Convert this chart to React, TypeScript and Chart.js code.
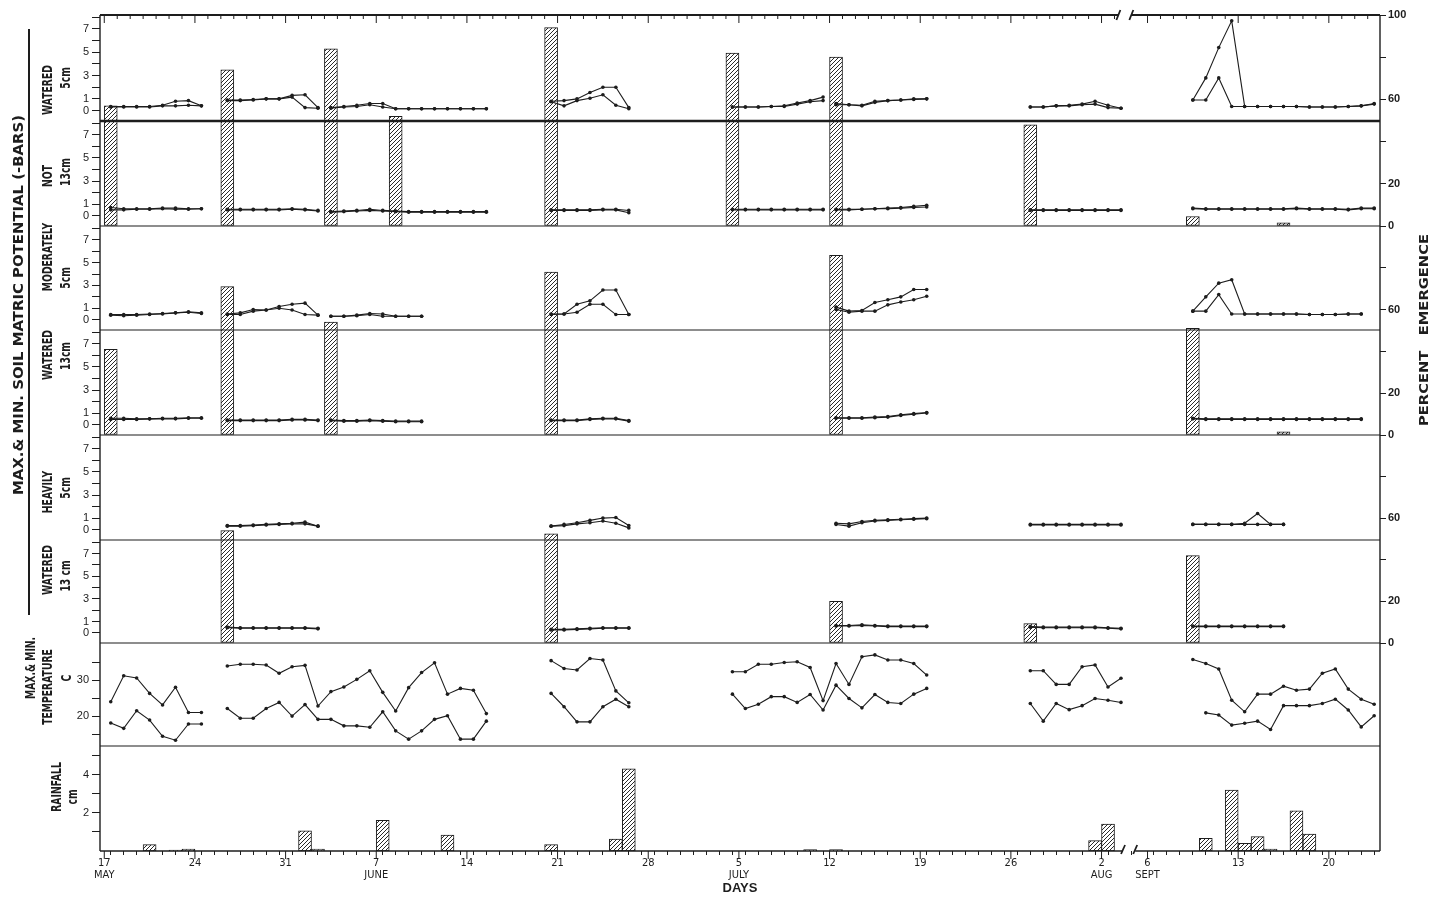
import React, { useEffect, useRef } from "react";
import { Chart, registerables } from "chart.js";

Chart.register(...registerables);

const INK = "#1d1d1d";
// Sept dates are drawn right after the axis break (Aug 3 | Sept 6)
const SEPT_SHIFT = 74.55;

function dayX(date: string): number {
  const [m, d] = date.split("/").map(Number);
  if (m === 5) return d - 17;
  if (m === 6) return d + 14;
  if (m === 7) return d + 44;
  if (m === 8) return d + 75;
  return d + SEPT_SHIFT;
}

// ---------------- axis labels ----------------
const tickDates = ["5/17", "5/24", "5/31", "6/7", "6/14", "6/21", "6/28", "7/5", "7/12", "7/19", "7/26", "8/2", "9/6", "9/13", "9/20"];
const tickDayLabels = ["17", "24", "31", "7", "14", "21", "28", "5", "12", "19", "26", "2", "6", "13", "20"];
const tickMonthLabels = ["MAY", "", "", "JUNE", "", "", "", "JULY", "", "", "", "AUG", "SEPT", "", ""];
const soilTicks = [0, 1, 2, 3, 4, 5, 6, 7, 8];
const soilTickLabels = [0, 1, 3, 5, 7];
const emergTicks = [0, 20, 40, 60, 80, 100];
const tempTicks = [15, 20, 25, 30, 35];
const tempTickLabels = [20, 30];
const rainTicks = [1, 2, 3, 4, 5];
const rainTickLabels = [2, 4];

// ---------------- soil matric potential (-bars), daily max / min per drying cycle ----------------
type Cycle = { start: string; max: number[]; min: number[] };

const notWatered5: Cycle[] = [
  { start: "5/17", max: [0.35, 0.35, 0.35, 0.35, 0.45, 0.8, 0.85, 0.4], min: [0.3, 0.3, 0.3, 0.3, 0.4, 0.4, 0.45, 0.4] },
  { start: "5/26", max: [0.9, 0.9, 0.95, 1.0, 1.0, 1.3, 1.35, 0.25], min: [0.85, 0.85, 0.9, 1.0, 1.0, 1.15, 0.25, 0.2] },
  { start: "6/3", max: [0.25, 0.35, 0.45, 0.6, 0.6, 0.15, 0.15, 0.15, 0.15, 0.15, 0.15, 0.15, 0.15], min: [0.2, 0.3, 0.35, 0.5, 0.3, 0.15, 0.15, 0.15, 0.15, 0.15, 0.15, 0.15, 0.15] },
  { start: "6/20", max: [0.8, 0.85, 1.0, 1.55, 2.0, 2.0, 0.25], min: [0.75, 0.4, 0.85, 1.05, 1.35, 0.45, 0.15] },
  { start: "7/4", max: [0.3, 0.3, 0.3, 0.35, 0.4, 0.65, 0.85, 1.15], min: [0.3, 0.3, 0.3, 0.35, 0.35, 0.55, 0.75, 0.85] },
  { start: "7/12", max: [0.6, 0.5, 0.45, 0.8, 0.85, 0.9, 1.0, 1.0], min: [0.5, 0.5, 0.4, 0.7, 0.85, 0.9, 0.95, 1.0] },
  { start: "7/27", max: [0.3, 0.3, 0.4, 0.45, 0.55, 0.8, 0.45, 0.2], min: [0.3, 0.3, 0.4, 0.4, 0.5, 0.55, 0.25, 0.2] },
  { start: "9/9", max: [0.9, 2.8, 5.4, 7.7, 0.35, 0.35, 0.35, 0.35, 0.35, 0.3, 0.3, 0.3, 0.35, 0.4, 0.6], min: [0.9, 0.9, 2.8, 0.35, 0.35, 0.35, 0.35, 0.35, 0.35, 0.3, 0.3, 0.3, 0.35, 0.4, 0.55] },
];

const notWatered13: Cycle[] = [
  { start: "5/17", max: [0.7, 0.6, 0.6, 0.6, 0.65, 0.65, 0.6, 0.6], min: [0.5, 0.5, 0.55, 0.55, 0.6, 0.55, 0.55, 0.6] },
  { start: "5/26", max: [0.55, 0.55, 0.55, 0.55, 0.55, 0.6, 0.55, 0.45], min: [0.5, 0.5, 0.5, 0.5, 0.5, 0.55, 0.5, 0.4] },
  { start: "6/3", max: [0.35, 0.4, 0.45, 0.55, 0.45, 0.4, 0.35, 0.35, 0.35, 0.35, 0.35, 0.35, 0.35], min: [0.3, 0.35, 0.4, 0.45, 0.4, 0.35, 0.3, 0.3, 0.3, 0.3, 0.3, 0.3, 0.3] },
  { start: "6/20", max: [0.5, 0.5, 0.5, 0.5, 0.55, 0.55, 0.45], min: [0.45, 0.45, 0.45, 0.45, 0.5, 0.5, 0.25] },
  { start: "7/4", max: [0.55, 0.55, 0.55, 0.55, 0.55, 0.55, 0.55, 0.55], min: [0.5, 0.5, 0.5, 0.5, 0.5, 0.5, 0.5, 0.5] },
  { start: "7/12", max: [0.55, 0.55, 0.55, 0.6, 0.65, 0.7, 0.8, 0.9], min: [0.5, 0.5, 0.55, 0.6, 0.6, 0.65, 0.7, 0.75] },
  { start: "7/27", max: [0.5, 0.5, 0.5, 0.5, 0.5, 0.5, 0.5, 0.5], min: [0.45, 0.45, 0.45, 0.45, 0.45, 0.45, 0.45, 0.45] },
  { start: "9/9", max: [0.65, 0.6, 0.6, 0.6, 0.6, 0.6, 0.6, 0.6, 0.65, 0.6, 0.6, 0.6, 0.55, 0.65, 0.65], min: [0.6, 0.55, 0.55, 0.55, 0.55, 0.55, 0.55, 0.55, 0.6, 0.55, 0.55, 0.55, 0.5, 0.6, 0.6] },
];

const modWatered5: Cycle[] = [
  { start: "5/17", max: [0.45, 0.45, 0.45, 0.5, 0.55, 0.6, 0.7, 0.6], min: [0.4, 0.35, 0.4, 0.45, 0.5, 0.6, 0.65, 0.55] },
  { start: "5/26", max: [0.5, 0.6, 0.9, 0.85, 1.15, 1.35, 1.45, 0.4], min: [0.45, 0.45, 0.75, 0.85, 1.0, 0.85, 0.45, 0.4] },
  { start: "6/3", max: [0.3, 0.3, 0.4, 0.55, 0.5, 0.3, 0.3, 0.3], min: [0.3, 0.3, 0.35, 0.45, 0.3, 0.3, 0.3, 0.3] },
  { start: "6/20", max: [0.5, 0.5, 1.35, 1.65, 2.6, 2.6, 0.45], min: [0.45, 0.5, 0.65, 1.35, 1.35, 0.45, 0.45] },
  { start: "7/12", max: [1.1, 0.75, 0.8, 1.5, 1.75, 2.0, 2.65, 2.65], min: [0.9, 0.65, 0.75, 0.75, 1.3, 1.55, 1.75, 2.05] },
  { start: "9/9", max: [0.75, 2.0, 3.2, 3.5, 0.5, 0.5, 0.5, 0.5, 0.5, 0.45, 0.45, 0.45, 0.5, 0.5], min: [0.75, 0.75, 2.2, 0.5, 0.5, 0.5, 0.5, 0.5, 0.5, 0.45, 0.45, 0.45, 0.5, 0.5] },
];

const modWatered13: Cycle[] = [
  { start: "5/17", max: [0.55, 0.55, 0.5, 0.5, 0.55, 0.55, 0.6, 0.6], min: [0.45, 0.45, 0.45, 0.5, 0.5, 0.5, 0.55, 0.55] },
  { start: "5/26", max: [0.4, 0.4, 0.4, 0.4, 0.4, 0.45, 0.45, 0.4], min: [0.35, 0.35, 0.35, 0.35, 0.35, 0.4, 0.4, 0.35] },
  { start: "6/3", max: [0.4, 0.35, 0.35, 0.4, 0.35, 0.3, 0.3, 0.3], min: [0.35, 0.3, 0.3, 0.35, 0.3, 0.25, 0.25, 0.25] },
  { start: "6/20", max: [0.4, 0.4, 0.4, 0.5, 0.55, 0.55, 0.35], min: [0.35, 0.35, 0.35, 0.45, 0.5, 0.5, 0.3] },
  { start: "7/12", max: [0.6, 0.6, 0.6, 0.65, 0.7, 0.85, 0.95, 1.05], min: [0.55, 0.55, 0.55, 0.6, 0.65, 0.8, 0.9, 1.0] },
  { start: "9/9", max: [0.55, 0.5, 0.5, 0.5, 0.5, 0.5, 0.5, 0.5, 0.5, 0.5, 0.5, 0.5, 0.5, 0.5], min: [0.5, 0.45, 0.45, 0.45, 0.45, 0.45, 0.45, 0.45, 0.45, 0.45, 0.45, 0.45, 0.45, 0.45] },
];

const heavyWatered5: Cycle[] = [
  { start: "5/26", max: [0.35, 0.35, 0.4, 0.45, 0.5, 0.55, 0.65, 0.3], min: [0.3, 0.3, 0.35, 0.4, 0.45, 0.5, 0.5, 0.3] },
  { start: "6/20", max: [0.3, 0.45, 0.6, 0.8, 1.0, 1.05, 0.35], min: [0.3, 0.35, 0.5, 0.6, 0.75, 0.55, 0.15] },
  { start: "7/12", max: [0.55, 0.5, 0.7, 0.8, 0.85, 0.9, 0.95, 1.0], min: [0.45, 0.3, 0.6, 0.75, 0.8, 0.85, 0.9, 0.95] },
  { start: "7/27", max: [0.45, 0.45, 0.45, 0.45, 0.45, 0.45, 0.45, 0.45], min: [0.4, 0.4, 0.4, 0.4, 0.4, 0.4, 0.4, 0.4] },
  { start: "9/9", max: [0.45, 0.45, 0.45, 0.45, 0.55, 1.4, 0.45, 0.45], min: [0.45, 0.45, 0.45, 0.45, 0.45, 0.45, 0.45, 0.45] },
];

const heavyWatered13: Cycle[] = [
  { start: "5/26", max: [0.5, 0.45, 0.45, 0.45, 0.45, 0.45, 0.45, 0.4], min: [0.45, 0.4, 0.4, 0.4, 0.4, 0.4, 0.4, 0.35] },
  { start: "6/20", max: [0.3, 0.3, 0.35, 0.4, 0.45, 0.45, 0.45], min: [0.25, 0.25, 0.3, 0.35, 0.4, 0.4, 0.4] },
  { start: "7/12", max: [0.65, 0.65, 0.7, 0.65, 0.6, 0.6, 0.6, 0.6], min: [0.6, 0.6, 0.65, 0.6, 0.55, 0.55, 0.55, 0.55] },
  { start: "7/27", max: [0.55, 0.5, 0.5, 0.5, 0.5, 0.5, 0.45, 0.4], min: [0.5, 0.45, 0.45, 0.45, 0.45, 0.45, 0.4, 0.35] },
  { start: "9/9", max: [0.6, 0.6, 0.6, 0.6, 0.6, 0.6, 0.6, 0.6], min: [0.55, 0.55, 0.55, 0.55, 0.55, 0.55, 0.55, 0.55] },
];

// ---------------- percent emergence (bars) ----------------
const nwEmergDates = ["5/17", "5/26", "6/3", "6/8", "6/20", "7/4", "7/12", "7/27", "9/9", "9/16"];
const nwEmergence = [57, 74, 84, 52, 94, 82, 80, 48, 4.5, 1.5];
const mwEmergDates = ["5/17", "5/26", "6/3", "6/20", "7/12", "9/9", "9/16"];
const mwEmergence = [41, 71, 54, 78, 86, 51, 1.5];
const hwEmergDates = ["5/26", "6/20", "7/12", "7/27", "9/9"];
const hwEmergence = [54, 52.5, 20, 9.3, 42];

// ---------------- air temperature (C) ----------------
const tempMaxStarts = ["5/17", "5/26", "6/20", "7/4", "7/27", "9/9"];
const tempMax = [
  [24.0, 31.2, 30.6, 26.3, 23.1, 28.0, 21.0, 21.0],
  [33.9, 34.4, 34.4, 34.2, 31.9, 33.7, 34.1, 22.8, 26.8, 28.1, 30.2, 32.6, 26.6, 21.4, 27.9, 32.1, 34.8, 26.1, 27.7, 27.2, 20.7],
  [35.4, 33.2, 32.8, 36.0, 35.6, 27.0, 23.7],
  [32.3, 32.3, 34.4, 34.4, 34.9, 35.1, 33.5, 24.3, 34.6, 28.8, 36.5, 37.0, 35.6, 35.6, 34.6, 31.4],
  [32.6, 32.6, 28.8, 28.8, 33.7, 34.2, 28.1, 30.5],
  [35.7, 34.6, 33.1, 24.4, 21.2, 26.1, 26.1, 28.3, 27.2, 27.5, 31.9, 33.1, 27.5, 24.7, 23.3],
];
const tempMinStarts = ["5/17", "5/26", "6/20", "7/4", "7/27", "9/10"];
const tempMin = [
  [18.1, 16.6, 21.5, 18.9, 14.4, 13.3, 17.8, 17.8],
  [22.1, 19.4, 19.4, 22.1, 23.8, 20.0, 23.2, 19.1, 19.1, 17.3, 17.3, 16.9, 21.2, 15.9, 13.6, 15.9, 19.1, 20.1, 13.6, 13.6, 18.6],
  [26.3, 22.6, 18.4, 18.4, 22.6, 24.7, 22.6],
  [26.1, 22.1, 23.3, 25.4, 25.4, 23.8, 26.0, 21.7, 28.6, 24.9, 22.3, 26.0, 23.8, 23.5, 26.1, 27.7],
  [23.5, 18.6, 23.5, 21.8, 22.9, 24.9, 24.4, 23.8],
  [20.9, 20.3, 17.5, 18.0, 18.6, 16.3, 22.9, 22.9, 22.9, 23.5, 24.7, 21.7, 17.0, 20.1],
];

// ---------------- rainfall (cm) ----------------
const rainDates = ["5/20", "5/22", "5/23", "6/1", "6/2", "6/7", "6/12", "6/20", "6/25", "6/26", "7/10", "7/12", "8/1", "8/2", "9/10", "9/12", "9/13", "9/14", "9/15", "9/17", "9/18"];
const rainCm = [0.33, 0.05, 0.1, 1.06, 0.1, 1.6, 0.84, 0.33, 0.63, 4.3, 0.07, 0.07, 0.54, 1.41, 0.66, 3.19, 0.4, 0.75, 0.1, 2.11, 0.89];

// ---------------- helpers ----------------
const xTickValues: number[] = [];
for (let v = 0; v <= 78; v++) xTickValues.push(v);
for (let d = 6; d <= 23; d++) xTickValues.push(d + SEPT_SHIFT);
const majorValues = tickDates.map(dayX);
const isMajor = (v: number) => majorValues.some((m) => Math.abs(m - v) < 0.01);

function lineSet(points: { x: number; y: number }[], axis: string) {
  return {
    type: "line",
    data: points,
    yAxisID: axis,
    xAxisID: "x",
    borderColor: INK,
    backgroundColor: INK,
    borderWidth: 1.1,
    pointRadius: 1.8,
    pointHoverRadius: 1.8,
    pointBackgroundColor: INK,
    pointBorderWidth: 0,
    tension: 0,
    fill: false,
  };
}

function cycleSets(cycles: Cycle[], axis: string) {
  const out: any[] = [];
  cycles.forEach((c) => {
    const x0 = dayX(c.start) + 0.5;
    out.push(lineSet(c.max.map((y, i) => ({ x: x0 + i, y })), axis));
    out.push(lineSet(c.min.map((y, i) => ({ x: x0 + i, y })), axis));
  });
  return out;
}

function segmentSets(starts: string[], segs: number[][], axis: string) {
  return segs.map((vals, k) => {
    const x0 = dayX(starts[k]) + 0.5;
    return lineSet(vals.map((y, i) => ({ x: x0 + i, y })), axis);
  });
}

function barSet(dates: string[], vals: number[], axis: string, pattern: any) {
  return {
    type: "bar",
    data: dates.map((d, i) => ({ x: dayX(d) + 0.5, y: vals[i] })),
    yAxisID: axis,
    xAxisID: "x",
    backgroundColor: pattern,
    borderColor: INK,
    borderWidth: 1,
    borderSkipped: false,
    barThickness: 13,
    grouped: false,
    order: 10,
  };
}

function makeHatch() {
  const c = document.createElement("canvas");
  c.width = 4;
  c.height = 4;
  const g = c.getContext("2d")!;
  g.fillStyle = "#ffffff";
  g.fillRect(0, 0, 4, 4);
  g.strokeStyle = "#2a2a2a";
  g.lineWidth = 1;
  g.beginPath();
  g.moveTo(0, 4);
  g.lineTo(4, 0);
  g.moveTo(-1, 1);
  g.lineTo(1, -1);
  g.moveTo(3, 5);
  g.lineTo(5, 3);
  g.stroke();
  const ctx = document.createElement("canvas").getContext("2d")!;
  return ctx.createPattern(c, "repeat");
}

function seg(ctx: CanvasRenderingContext2D, x1: number, y1: number, x2: number, y2: number) {
  ctx.beginPath();
  ctx.moveTo(x1, y1);
  ctx.lineTo(x2, y2);
  ctx.stroke();
}

function rotText(ctx: CanvasRenderingContext2D, text: string, cx: number, cy: number, font: string, sx: number, len?: number) {
  ctx.save();
  ctx.translate(cx, cy);
  ctx.rotate(-Math.PI / 2);
  ctx.font = font;
  ctx.textAlign = "center";
  ctx.textBaseline = "middle";
  let k = sx;
  if (len) k = len / ctx.measureText(text).width;
  ctx.scale(k, 1);
  ctx.fillText(text, 0, 0);
  ctx.restore();
}

const LABEL_FONT = "bold 14px 'DejaVu Sans', 'Liberation Sans', sans-serif";

const decorPlugin = {
  id: "decor",
  afterDraw(chart: any) {
    const ctx: CanvasRenderingContext2D = chart.ctx;
    const a = chart.chartArea;
    const xs = chart.scales.x;
    const px = (v: number) => xs.getPixelForValue(v);
    ctx.save();
    ctx.strokeStyle = INK;
    ctx.fillStyle = INK;
    // panel separators
    ["nw13", "mw5", "mw13", "hw5", "hw13", "temp", "rain"].forEach((id) => {
      const s = chart.scales[id];
      ctx.lineWidth = id === "nw13" ? 2.4 : 1.2;
      seg(ctx, a.left, s.top, a.right, s.top);
    });
    // left / right frame
    ctx.lineWidth = 1.4;
    seg(ctx, a.left, a.top, a.left, a.bottom);
    seg(ctx, a.right, a.top, a.right, a.bottom);
    // top line with break
    const t1 = px(78.3), t2 = px(79.3);
    ctx.lineWidth = 2;
    seg(ctx, a.left, a.top, t1, a.top);
    seg(ctx, t2, a.top, a.right, a.top);
    ctx.lineWidth = 1.8;
    seg(ctx, t1 - 2, a.top + 5, t1 + 2, a.top - 5);
    seg(ctx, t2 - 2, a.top + 5, t2 + 2, a.top - 5);
    // bottom axis line with break
    const b1 = px(78.66), b2 = px(79.6);
    ctx.lineWidth = 1.5;
    seg(ctx, a.left, a.bottom, b1, a.bottom);
    seg(ctx, b2, a.bottom, a.right, a.bottom);
    ctx.lineWidth = 1.8;
    seg(ctx, b1 - 2, a.bottom + 3, b1 + 2, a.bottom - 6);
    seg(ctx, b2 - 2, a.bottom + 3, b2 + 2, a.bottom - 6);
    // ticks on the top frame, longer major ticks on the bottom
    ctx.lineWidth = 1;
    xTickValues.forEach((v) => {
      const p = px(v);
      seg(ctx, p, a.top, p, a.top + (isMajor(v) ? 8 : 4));
      if (isMajor(v)) seg(ctx, p, a.bottom, p, a.bottom + 8);
    });
    // bracket line for soil potential title
    ctx.lineWidth = 2;
    seg(ctx, 29, 29, 29, 615);
    // rotated titles
    rotText(ctx, "MAX.& MIN. SOIL MATRIC POTENTIAL (-BARS)", 19, 305, "bold 14px 'DejaVu Sans', sans-serif", 1, 380);
    const S = 0.66;
    rotText(ctx, "WATERED", 48, 90, LABEL_FONT, S);
    rotText(ctx, "5cm", 66, 78, LABEL_FONT, S);
    rotText(ctx, "NOT", 48, 176, LABEL_FONT, S);
    rotText(ctx, "13cm", 66, 172, LABEL_FONT, S);
    rotText(ctx, "MODERATELY", 48, 257, LABEL_FONT, S);
    rotText(ctx, "5cm", 66, 278, LABEL_FONT, S);
    rotText(ctx, "WATERED", 48, 355, LABEL_FONT, S);
    rotText(ctx, "13cm", 66, 356, LABEL_FONT, S);
    rotText(ctx, "HEAVILY", 48, 492, LABEL_FONT, S);
    rotText(ctx, "5cm", 66, 488, LABEL_FONT, S);
    rotText(ctx, "WATERED", 48, 570, LABEL_FONT, S);
    rotText(ctx, "13 cm", 66, 576, LABEL_FONT, S);
    rotText(ctx, "MAX.& MIN.", 31, 668, LABEL_FONT, S);
    rotText(ctx, "TEMPERATURE", 48, 687, LABEL_FONT, S);
    rotText(ctx, "C", 67, 678, LABEL_FONT, S);
    rotText(ctx, "RAINFALL", 57, 787, LABEL_FONT, S);
    rotText(ctx, "cm", 73, 797, LABEL_FONT, S);
    rotText(ctx, "PERCENT   EMERGENCE", 1425, 330, "bold 13px 'DejaVu Sans', sans-serif", 1, 192);
    ctx.restore();
  },
};

function soilAxis(weight: number, stackWeight: number) {
  return {
    type: "linear",
    position: "left",
    stack: "soil",
    stackWeight,
    weight,
    min: -0.9,
    max: 8.2,
    afterBuildTicks: (s: any) => {
      s.ticks = soilTicks.map((v) => ({ value: v }));
    },
    afterFit: (s: any) => {
      s.width = 100;
    },
    ticks: {
      autoSkip: false,
      padding: 3,
      color: INK,
      font: { size: 11 },
      callback: (v: number) => (soilTickLabels.includes(v) ? String(v) : ""),
    },
    grid: { drawOnChartArea: false, drawTicks: true, tickLength: 8, color: INK, lineWidth: 1 },
    border: { display: false },
  };
}

function emergAxis(weight: number, stackWeight: number, showTop: boolean) {
  return {
    type: "linear",
    position: "right",
    stack: "emerg",
    stackWeight,
    weight,
    min: 0,
    max: 100,
    afterBuildTicks: (s: any) => {
      s.ticks = emergTicks.map((v) => ({ value: v }));
    },
    afterFit: (s: any) => {
      s.width = 59;
    },
    ticks: {
      autoSkip: false,
      padding: 2,
      color: INK,
      font: { size: 11, weight: "bold" },
      callback: (v: number) => (v === 0 || v === 20 || v === 60 || (showTop && v === 100) ? String(v) : ""),
    },
    grid: { drawOnChartArea: false, drawTicks: true, tickLength: 6, color: INK, lineWidth: 1 },
    border: { display: false },
  };
}

export default function App() {
  const ref = useRef<HTMLCanvasElement | null>(null);

  useEffect(() => {
    const canvas = ref.current;
    if (!canvas) return;
    const hatch = makeHatch();

    const datasets: any[] = [
      barSet(nwEmergDates, nwEmergence, "eNW", hatch),
      barSet(mwEmergDates, mwEmergence, "eMW", hatch),
      barSet(hwEmergDates, hwEmergence, "eHW", hatch),
      barSet(rainDates, rainCm, "rain", hatch),
      ...cycleSets(notWatered5, "nw5"),
      ...cycleSets(notWatered13, "nw13"),
      ...cycleSets(modWatered5, "mw5"),
      ...cycleSets(modWatered13, "mw13"),
      ...cycleSets(heavyWatered5, "hw5"),
      ...cycleSets(heavyWatered13, "hw13"),
      ...segmentSets(tempMaxStarts, tempMax, "temp"),
      ...segmentSets(tempMinStarts, tempMin, "temp"),
    ];

    const chart = new Chart(canvas, {
      type: "line",
      data: { datasets },
      options: {
        responsive: false,
        devicePixelRatio: 1,
        animation: false,
        events: [],
        layout: { padding: { top: 15, left: 0, right: 0, bottom: 0 } },
        plugins: { legend: { display: false }, tooltip: { enabled: false }, colors: { enabled: false } },
        scales: {
          x: {
            type: "linear",
            position: "bottom",
            min: -0.33,
            max: 98.5,
            offset: false,
            afterBuildTicks: (s: any) => {
              s.ticks = xTickValues.map((v) => ({ value: v }));
            },
            afterFit: (s: any) => {
              s.height = 46;
            },
            ticks: {
              autoSkip: false,
              maxRotation: 0,
              minRotation: 0,
              padding: 2,
              color: INK,
              font: { size: 11, lineHeight: 1.1, family: "'Liberation Sans Narrow', 'DejaVu Sans Condensed', 'DejaVu Sans', sans-serif" },
              callback: (v: number) => {
                const i = majorValues.findIndex((m) => Math.abs(m - v) < 0.01);
                if (i < 0) return "";
                return tickMonthLabels[i] ? [tickDayLabels[i], tickMonthLabels[i]] : tickDayLabels[i];
              },
            },
            grid: { drawOnChartArea: false, drawTicks: true, tickLength: 4, color: INK, lineWidth: 1 },
            border: { display: false },
            title: { display: true, text: "DAYS", color: INK, font: { size: 13, weight: "bold" }, padding: { top: 0, bottom: 1 } },
          },
          nw5: soilAxis(8, 106),
          nw13: soilAxis(7, 105),
          mw5: soilAxis(6, 104),
          mw13: soilAxis(5, 105),
          hw5: soilAxis(4, 105),
          hw13: soilAxis(3, 103),
          temp: {
            type: "linear",
            position: "left",
            stack: "soil",
            stackWeight: 103,
            weight: 2,
            min: 11.7,
            max: 40.3,
            afterBuildTicks: (s: any) => {
              s.ticks = tempTicks.map((v) => ({ value: v }));
            },
            afterFit: (s: any) => {
              s.width = 100;
            },
            ticks: { autoSkip: false, padding: 3, color: INK, font: { size: 11 }, callback: (v: number) => (tempTickLabels.includes(v) ? String(v) : "") },
            grid: { drawOnChartArea: false, drawTicks: true, tickLength: 8, color: INK },
            border: { display: false },
          },
          rain: {
            type: "linear",
            position: "left",
            stack: "soil",
            stackWeight: 105,
            weight: 1,
            min: 0,
            max: 5.5,
            afterBuildTicks: (s: any) => {
              s.ticks = rainTicks.map((v) => ({ value: v }));
            },
            afterFit: (s: any) => {
              s.width = 100;
            },
            ticks: { autoSkip: false, padding: 3, color: INK, font: { size: 11 }, callback: (v: number) => (rainTickLabels.includes(v) ? String(v) : "") },
            grid: { drawOnChartArea: false, drawTicks: true, tickLength: 8, color: INK },
            border: { display: false },
          },
          eNW: emergAxis(1, 211, true),
          eMW: emergAxis(2, 209, false),
          eHW: emergAxis(3, 208, false),
          eT: { type: "linear", position: "right", stack: "emerg", stackWeight: 103, weight: 4, display: false },
          eR: { type: "linear", position: "right", stack: "emerg", stackWeight: 105, weight: 5, display: false },
        },
      } as any,
      plugins: [decorPlugin],
    } as any);

    return () => chart.destroy();
  }, []);

  return (
    <div style={{ position: "absolute", left: 0, top: 0, width: 1439, height: 897, background: "#ffffff" }}>
      <canvas ref={ref} width={1439} height={897} style={{ display: "block", width: 1439, height: 897 }} />
    </div>
  );
}
